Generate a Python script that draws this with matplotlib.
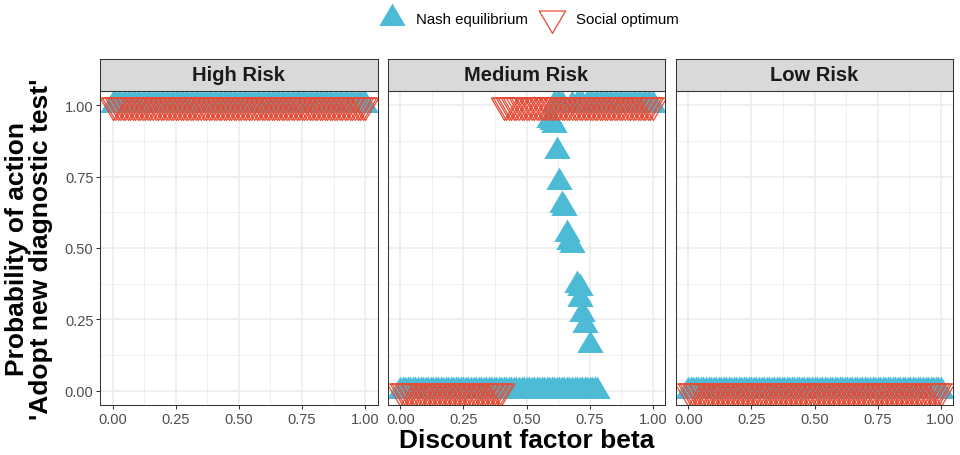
import numpy as np
import matplotlib
matplotlib.use('Agg')
import matplotlib.pyplot as plt
from matplotlib.lines import Line2D
from matplotlib.path import Path

plt.rcParams['font.family'] = ['Liberation Sans', 'DejaVu Sans']

# discount factor grid
beta = np.round(np.arange(0, 101) / 100, 2)

panels = ['High Risk', 'Medium Risk', 'Low Risk']

# High risk: both strategies always adopt
high_nash_one = (0.00, 1.00)
high_social_one = (0.00, 1.00)

# Medium risk
med_nash_zero = (0.00, 0.78)
med_nash_one_beta = [0.61, 0.62, 0.63, 0.64, 0.68, 0.70, 0.71, 0.72]
med_nash_one_range = (0.74, 1.00)
med_mixed_beta = [0.59, 0.60, 0.61, 0.62, 0.63, 0.64, 0.65, 0.66, 0.67, 0.68,
                  0.70, 0.71, 0.71, 0.72, 0.73, 0.75]
med_mixed_p = [0.95, 0.94, 0.93, 0.84, 0.73, 0.65, 0.64, 0.55, 0.52, 0.51,
               0.37, 0.36, 0.32, 0.27, 0.23, 0.16]
med_social_zero = (0.00, 0.40)
med_social_one = (0.41, 1.00)

# Low risk: never adopt
low_nash_zero = (0.00, 1.00)
low_social_zero = (0.00, 1.00)


def in_range(r):
    return beta[(beta >= r[0] - 1e-9) & (beta <= r[1] + 1e-9)]


def pts(ranges_vals, extra_x=(), extra_y=()):
    xs, ys = [], []
    for r, v in ranges_vals:
        b = in_range(r)
        xs += list(b)
        ys += [v] * len(b)
    xs += list(extra_x)
    ys += list(extra_y)
    return xs, ys


nash = [
    pts([(high_nash_one, 1.0)]),
    pts([(med_nash_zero, 0.0), (med_nash_one_range, 1.0)],
        med_nash_one_beta + med_mixed_beta,
        [1.0] * len(med_nash_one_beta) + med_mixed_p),
    pts([(low_nash_zero, 0.0)]),
]
social = [
    pts([(high_social_one, 1.0)]),
    pts([(med_social_zero, 0.0), (med_social_one, 1.0)]),
    pts([(low_social_zero, 0.0)]),
]

blue = '#4DBBD5'
red = '#E64B35'
codes = [Path.MOVETO, Path.LINETO, Path.LINETO, Path.CLOSEPOLY]
up = Path([(-1, -0.567), (1, -0.567), (0, 1.133), (-1, -0.567)], codes)
down = Path([(-1, 0.567), (1, 0.567), (0, -1.133), (-1, 0.567)], codes)
ms = 21.5

W, H = 960, 456
fig = plt.figure(figsize=(W / 100, H / 100), dpi=100)


def box(x0, y0, x1, y1):
    return [x0 / W, 1 - y1 / H, (x1 - x0) / W, (y1 - y0) / H]


xs_px = [(100, 377.7), (387.7, 665.4), (675.7, 953.3)]
for i, name in enumerate(panels):
    x0, x1 = xs_px[i]
    ax = fig.add_axes(box(x0, 92, x1, 406))
    ax.plot(nash[i][0], nash[i][1], linestyle='none', marker=up, ms=ms,
            color=blue, markeredgewidth=0)
    ax.plot(social[i][0], social[i][1], linestyle='none', marker=down, ms=ms,
            markerfacecolor='none', markeredgecolor=red, markeredgewidth=0.9)
    ax.set_xlim(-0.05, 1.05)
    ax.set_ylim(-0.05, 1.05)
    ax.set_xticks([0, 0.25, 0.5, 0.75, 1.0])
    ax.set_xticklabels(['0.00', '0.25', '0.50', '0.75', '1.00'])
    ax.set_yticks([0, 0.25, 0.5, 0.75, 1.0])
    ax.set_xticks([0.125, 0.375, 0.625, 0.875], minor=True)
    ax.set_yticks([0.125, 0.375, 0.625, 0.875], minor=True)
    if i == 0:
        ax.set_yticklabels(['0.00', '0.25', '0.50', '0.75', '1.00'])
    else:
        ax.tick_params(axis='y', which='both', left=False, labelleft=False)
    ax.grid(True, which='major', color='#EBEBEB', lw=1.1)
    ax.grid(True, which='minor', color='#EBEBEB', lw=0.55)
    ax.set_axisbelow(True)
    ax.tick_params(which='major', length=2.75, width=0.75, color='#333333',
                   labelsize=10.5, labelcolor='#4D4D4D', pad=2)
    ax.tick_params(which='minor', length=0)
    for s in ax.spines.values():
        s.set_color('#333333')
        s.set_linewidth(0.75)

    st = fig.add_axes(box(x0, 59.5, x1, 92))
    st.set_facecolor('#D9D9D9')
    st.set_xticks([])
    st.set_yticks([])
    for s in st.spines.values():
        s.set_color('#333333')
        s.set_linewidth(0.75)
    st.text(0.5, 0.5, name, ha='center', va='center', fontsize=14.5,
            fontweight='bold', color='#1A1A1A', transform=st.transAxes)

fig.text(526.5 / W, 1 - 441 / H, 'Discount factor beta', ha='center', va='center',
         fontsize=19, fontweight='bold')
fig.text(29.5 / W, 1 - 249 / H, "Probability of action\n'Adopt new diagnostic test'",
         rotation=90, ha='center', va='center', multialignment='center',
         fontsize=19, fontweight='bold', linespacing=1.0)

handles = [
    Line2D([], [], linestyle='none', marker=up, ms=ms, color=blue, markeredgewidth=0),
    Line2D([], [], linestyle='none', marker=down, ms=ms, markerfacecolor='none',
           markeredgecolor=red, markeredgewidth=0.9),
]
fig.legend(handles, ['Nash equilibrium', 'Social optimum'], loc='center',
           bbox_to_anchor=(0.551, 1 - 20 / H), ncol=2, frameon=False, fontsize=10.8,
           handlelength=1.8, handletextpad=0.7, columnspacing=0.7)

fig.savefig('out.png', dpi=100)
